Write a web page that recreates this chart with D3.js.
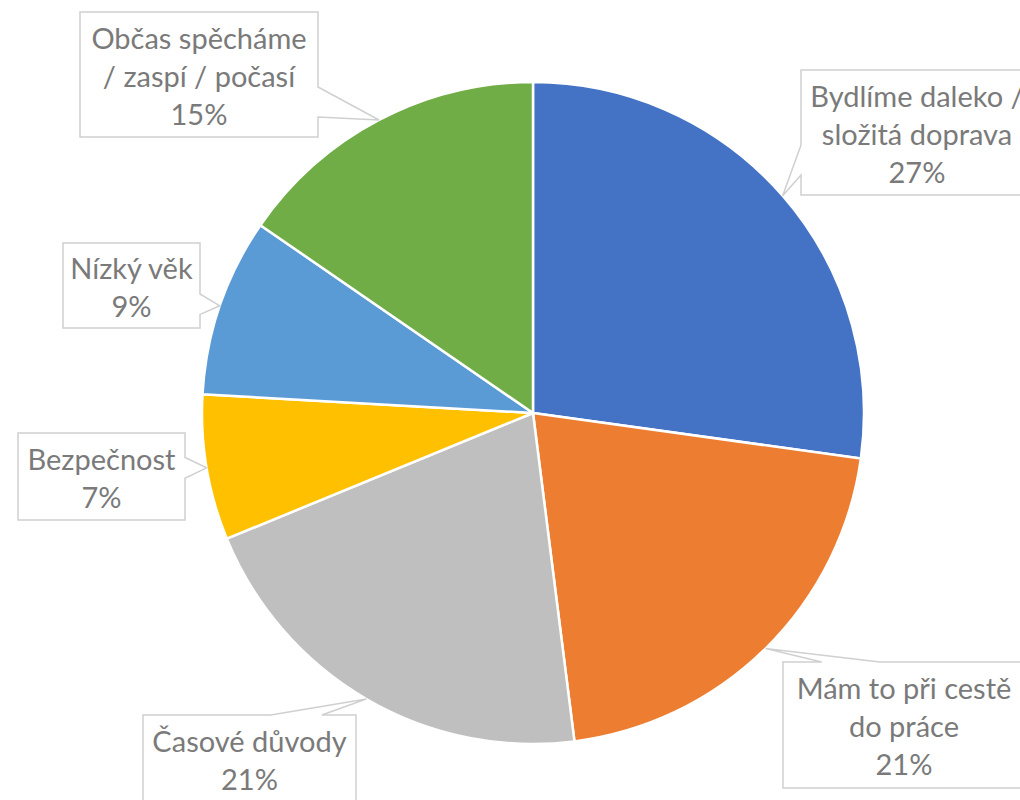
<!DOCTYPE html>
<html><head><meta charset="utf-8">
<script src="https://cdn.jsdelivr.net/npm/d3@7"></script>
<style>html,body{margin:0;padding:0;background:#fff;overflow:hidden}</style>
</head><body><svg id="c" width="1020" height="800"></svg>
<script>
const categories = ["Bydlíme daleko / složitá doprava","Mám to při cestě do práce","Časové důvody","Bezpečnost","Nízký věk","Občas spěcháme / zaspí / počasí"];
const labelLines = [["Bydlíme daleko /","složitá doprava"],["Mám to při cestě","do práce"],["Časové důvody"],["Bezpečnost"],["Nízký věk"],["Občas spěcháme","/ zaspí / počasí"]];
const values = [27.2, 20.8, 20.8, 7.1, 8.7, 15.4];
const colors = ["#4472C4","#ED7D31","#BFBFBF","#FFC000","#5B9BD5","#70AD47"];
const pctLabels = ["27%","21%","21%","7%","9%","15%"];

const boxes = [
  {x:801,y:70,w:232,h:125,side:"left"},
  {x:783,y:662,w:242,h:126,side:"top"},
  {x:143,y:715,w:213,h:87,side:"top"},
  {x:18,y:433,w:167,h:87,side:"right"},
  {x:63,y:243,w:137,h:85,side:"right"},
  {x:80,y:12,w:238,h:125,side:"right"}
];

const svg = d3.select("#c");
const cx = 533, cy = 413, R = 331;
const pie = d3.pie().sort(null).value(d=>d)(values);
const arc = d3.arc().innerRadius(0).outerRadius(R);
const g = svg.append("g").attr("transform",`translate(${cx},${cy})`);
g.selectAll("path").data(pie).join("path")
  .attr("d",arc).attr("fill",(d,i)=>colors[i])
  .attr("stroke","#fff").attr("stroke-width",2.5).attr("stroke-linejoin","round");

function calloutPath(b, tx, ty){
  const x0=b.x, y0=b.y, x1=b.x+b.w, y1=b.y+b.h;
  const side = b.side;
  const horiz = (side==="top"||side==="bottom");
  const a = horiz? x0 : y0, bb = horiz? x1 : y1, L = bb-a;
  const p = horiz? tx : ty;
  const c = Math.max(a+0.28*L, Math.min(bb-0.28*L, p));
  const hw = 0.12*L;
  const pts = [];
  pts.push([x0,y0]);
  if (side==="top"){ pts.push([c-hw,y0],[tx,ty],[c+hw,y0]); }
  pts.push([x1,y0]);
  if (side==="right"){ pts.push([x1,c-hw],[tx,ty],[x1,c+hw]); }
  pts.push([x1,y1]);
  if (side==="bottom"){ pts.push([c+hw,y1],[tx,ty],[c-hw,y1]); }
  pts.push([x0,y1]);
  if (side==="left"){ pts.push([x0,c+hw],[tx,ty],[x0,c-hw]); }
  return "M"+pts.map(q=>q.join(",")).join("L")+"Z";
}

const lab = svg.append("g");
pie.forEach((d,i)=>{
  const mid = (d.startAngle+d.endAngle)/2;
  const tx = cx + R*Math.sin(mid), ty = cy - R*Math.cos(mid);
  const b = boxes[i];
  lab.append("path").attr("d",calloutPath(b,tx,ty))
    .attr("fill","#fff").attr("stroke","#D0D0D0").attr("stroke-width",1.5).attr("stroke-linejoin","miter");
  const lines = labelLines[i].concat([pctLabels[i]]);
  const n = lines.length, bcx = b.x+b.w/2, bcy = b.y+b.h/2;
  const t = lab.append("text").attr("text-anchor","middle")
    .attr("font-family","Lato, 'Open Sans', sans-serif").attr("font-size",29).attr("fill","#7A7A7A");
  lines.forEach((ln,k)=>{
    t.append("tspan").attr("x",bcx).attr("y",bcy+(k-(n-1)/2)*38+12).text(ln);
  });
});
</script></body></html>
